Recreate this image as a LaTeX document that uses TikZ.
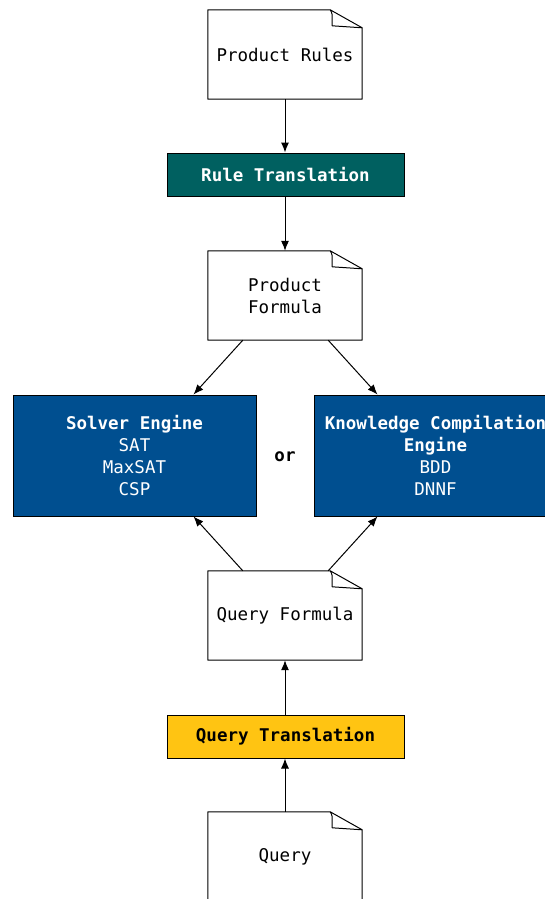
\documentclass[tikz,border=0pt]{standalone}
\usepackage{fontspec}
\setmonofont{DejaVu Sans Mono}
\usetikzlibrary{arrows.meta}
\definecolor{tealbox}{RGB}{0,96,96}
\definecolor{bluebox}{RGB}{0,79,144}
\definecolor{amberbox}{RGB}{255,196,18}
\newcommand\docoutline[1]{%
  \draw[docline] (#1.north west) -- ([xshift=-32pt]#1.north east) -- ([yshift=-18pt]#1.north east) -- (#1.south east) -- (#1.south west) -- cycle;
  \draw[docline] ([xshift=-32pt]#1.north east) to[out=-70,in=90] ([xshift=-30pt,yshift=-5pt]#1.north east) -- ([xshift=-30pt,yshift=-16pt]#1.north east) -- ([yshift=-18pt]#1.north east);}
\begin{document}
\begin{tikzpicture}[x=1pt,y=-1pt,
  font=\ttfamily\fontsize{17.5}{22}\selectfont,
  doc/.style={minimum width=154pt,minimum height=89pt,inner sep=0pt,align=center},
  docline/.style={line width=1pt,line join=round},
  proc/.style={draw=black,line width=1pt,minimum width=237pt,minimum height=43pt,inner sep=0pt,align=center,font=\ttfamily\bfseries\fontsize{17.5}{22}\selectfont},
  engine/.style={draw=black,line width=1pt,fill=bluebox,text=white,minimum width=243pt,minimum height=121pt,inner sep=0pt,align=center},
  arr/.style={line width=1pt,-{Latex[length=10pt,width=8pt]}}]
\useasboundingbox (0,0) rectangle (545,899);
\node[doc] (pr) at (285,54.5) {Product Rules};
\docoutline{pr}
\node[proc,fill=tealbox,text=white] (rt) at (285.5,174.5) {Rule Translation};
\node[doc] (pf) at (285,295.5) {Product\\Formula};
\docoutline{pf}
\node[engine] (se) at (134.5,455.5) {\textbf{Solver Engine}\\SAT\\MaxSAT\\CSP};
\node[engine] (kc) at (435.5,455.5) {\textbf{Knowledge Compilation}\\\textbf{Engine}\\BDD\\DNNF};
\node[font=\ttfamily\bfseries\fontsize{17.5}{22}\selectfont] (or) at (285,457) {or};
\node[doc] (qf) at (285,615.5) {Query Formula};
\docoutline{qf}
\node[proc,fill=amberbox,text=black] (qt) at (285.5,736.5) {Query Translation};
\node[doc] (q) at (285,856.5) {Query};
\docoutline{q}
\draw[arr] (pr.south) -- (pr.south |- rt.north);
\draw[arr] (pf.north |- rt.south) -- (pf.north);
\draw[arr] ([xshift=35pt]pf.south west) -- ([xshift=-63pt]se.north east);
\draw[arr] ([xshift=-34pt]pf.south east) -- ([xshift=64pt]kc.north west);
\draw[arr] ([xshift=35pt]qf.north west) -- ([xshift=-63pt]se.south east);
\draw[arr] ([xshift=-34pt]qf.north east) -- ([xshift=64pt]kc.south west);
\draw[arr] (qf.south |- qt.north) -- (qf.south);
\draw[arr] (q.north) -- (q.north |- qt.south);
\end{tikzpicture}
\end{document}
